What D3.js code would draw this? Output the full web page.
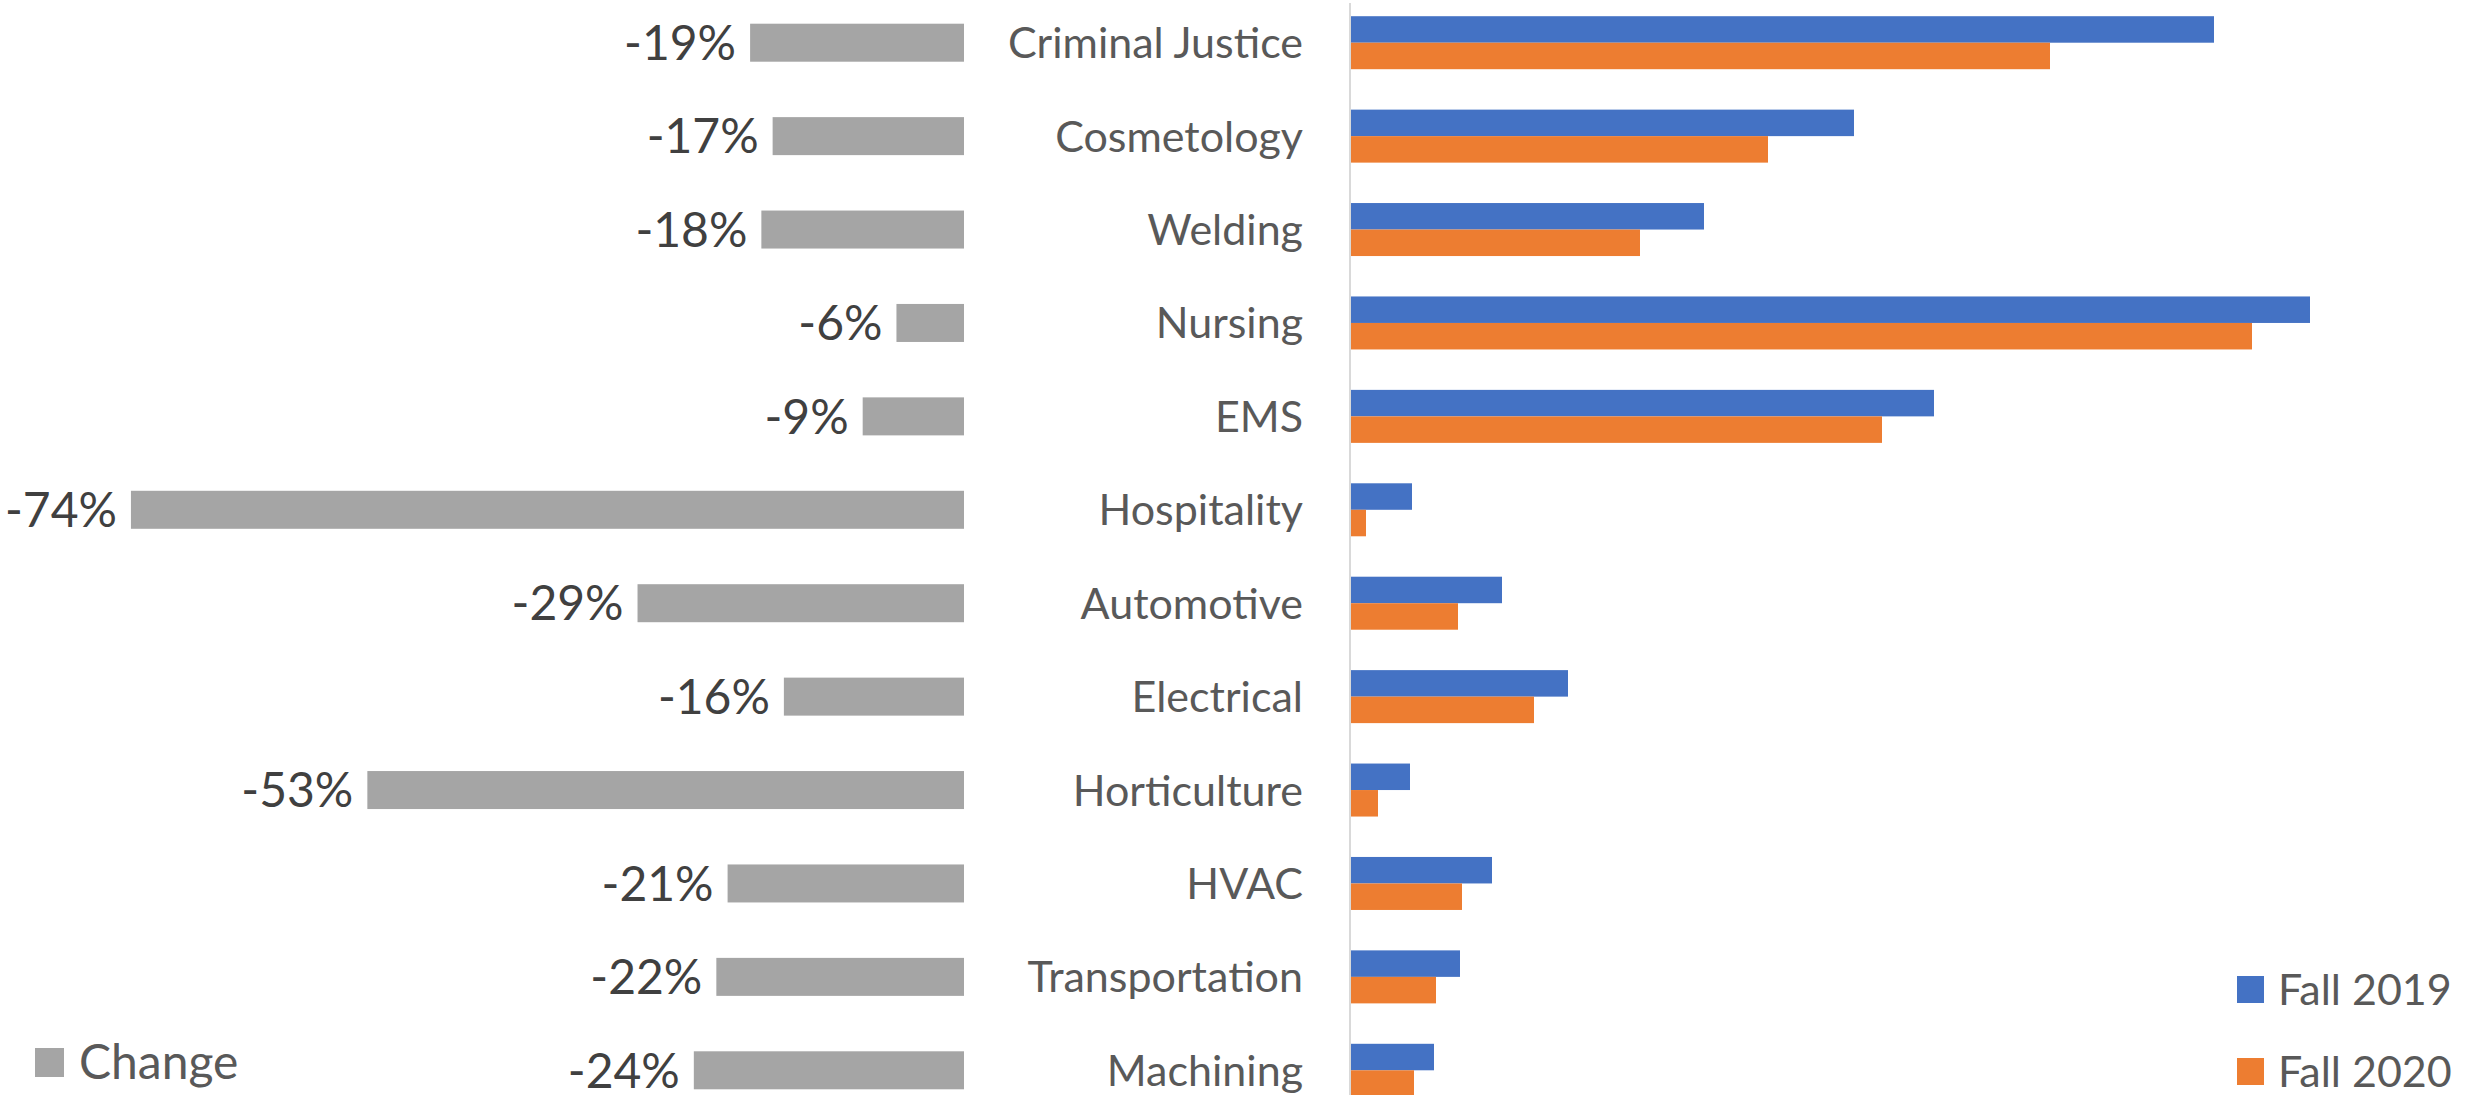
<!DOCTYPE html>
<html>
<head>
<meta charset="utf-8">
<script src="https://cdn.jsdelivr.net/npm/d3@7"></script>
<style>
  body { margin: 0; background: #fff; }
  svg { display: block; }
  text { font-family: Lato, "Noto Sans", sans-serif; }
</style>
</head>
<body>
<script>
// enrollment by program, fall 2019 vs fall 2020
var categories = ["Criminal Justice", "Cosmetology", "Welding", "Nursing", "EMS",
  "Hospitality", "Automotive", "Electrical", "Horticulture", "HVAC",
  "Transportation", "Machining"];
var fall2019 = [432, 252, 177, 480, 292, 31, 76, 109, 30, 71, 55, 42];
var fall2020 = [350, 209, 145, 451, 266, 8, 54, 92, 14, 56, 43, 32];
var change = [-0.19, -0.17, -0.18, -0.06, -0.09, -0.74, -0.29, -0.16, -0.53, -0.21, -0.22, -0.24];
var seriesNames = ["Fall 2019", "Fall 2020"];
var colors = ["#4472C4", "#ED7D31"];
var changeColor = "#A5A5A5";

var width = 2481, height = 1095;
var svg = d3.select("body").append("svg")
  .attr("width", width).attr("height", height);

var y = d3.scaleBand().domain(categories).range([-4, 1117]).padding(0);
var inner = d3.scaleBand().domain(seriesNames).range([-26.5, 26.5]);
var x = d3.scaleLinear().domain([0, 500]).range([1350, 2350]);
var xc = d3.scaleLinear().domain([-0.8, 0]).range([63.4, 964]);
// excel style: plain hyphen, not unicode minus
var pct = function(v) { return d3.format(".0%")(v).replace("\u2212", "-"); };

var rows = categories.map(function(c, i) {
  return { name: c, v: [fall2019[i], fall2020[i]], ch: change[i] };
});

// change bars (left panel)
svg.selectAll(".chg").data(rows).enter().append("rect")
  .attr("class", "chg")
  .attr("x", function(d) { return xc(d.ch); })
  .attr("y", function(d) { return y(d.name) + y.bandwidth() / 2 - 19; })
  .attr("width", function(d) { return xc(0) - xc(d.ch); })
  .attr("height", 38)
  .attr("fill", changeColor);

svg.selectAll(".chglbl").data(rows).enter().append("text")
  .attr("class", "chglbl")
  .attr("x", function(d) { return xc(d.ch) - 14; })
  .attr("y", function(d) { return y(d.name) + y.bandwidth() / 2; })
  .attr("dy", "0.36em")
  .attr("text-anchor", "end")
  .attr("font-size", 48)
  .attr("fill", "#404040")
  .text(function(d) { return pct(d.ch); });

// category names
svg.selectAll(".cat").data(rows).enter().append("text")
  .attr("class", "cat")
  .attr("x", 1303)
  .attr("y", function(d) { return y(d.name) + y.bandwidth() / 2; })
  .attr("dy", "0.36em")
  .attr("text-anchor", "end")
  .attr("font-size", 43)
  .attr("fill", "#595959")
  .text(function(d) { return d.name; });

// axis line
svg.append("line")
  .attr("x1", x(0)).attr("x2", x(0))
  .attr("y1", 3).attr("y2", height)
  .attr("stroke", "#D9D9D9").attr("stroke-width", 2);

// clustered bars
var g = svg.selectAll(".row").data(rows).enter().append("g")
  .attr("transform", function(d) { return "translate(0," + (y(d.name) + y.bandwidth() / 2) + ")"; });

g.selectAll("rect").data(function(d) {
    return d.v.map(function(v, j) { return { s: seriesNames[j], v: v, j: j }; });
  }).enter().append("rect")
  .attr("x", x(0) + 1)
  .attr("y", function(d) { return inner(d.s); })
  .attr("width", function(d) { return x(d.v) - x(0) - 1; })
  .attr("height", inner.bandwidth())
  .attr("fill", function(d) { return colors[d.j]; });

// legends
var legChange = svg.append("g");
legChange.append("rect").attr("x", 35).attr("y", 1048).attr("width", 29).attr("height", 29).attr("fill", changeColor);
legChange.append("text").attr("x", 79).attr("y", 1062).attr("dy", "0.36em")
  .attr("font-size", 48).attr("fill", "#595959").text("Change");

var leg = svg.selectAll(".leg").data(seriesNames).enter().append("g")
  .attr("transform", function(d, i) { return "translate(2237," + (976 + i * 82) + ")"; });
leg.append("rect").attr("width", 27).attr("height", 27)
  .attr("fill", function(d, i) { return colors[i]; });
leg.append("text").attr("x", 41).attr("y", 14).attr("dy", "0.36em")
  .attr("font-size", 43).attr("fill", "#595959").text(function(d) { return d; });
</script>
</body>
</html>
